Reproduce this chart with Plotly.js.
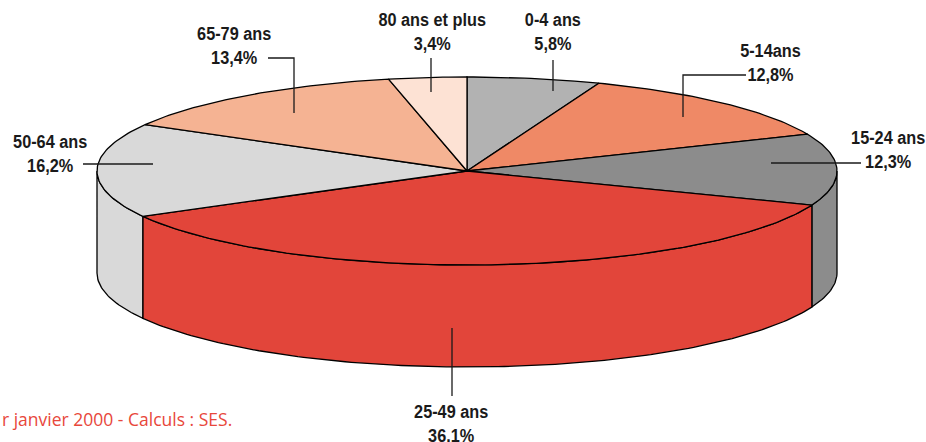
<!DOCTYPE html>
<html><head><meta charset="utf-8">
<script src="https://cdn.plot.ly/plotly-3.0.1.min.js"></script>
<style>html,body{margin:0;padding:0;background:#fff}#chart{width:926px;height:442px}
.narrow-label text.annotation-text{transform-box:fill-box;transform-origin:center;transform:scaleX(0.88)}
</style>
</head><body><div id="chart"></div>
<script>
// ---- data ----
const categories = ['0-4 ans','5-14ans','15-24 ans','25-49 ans','50-64 ans','65-79 ans','80 ans et plus'];
const shares = [5.8, 12.8, 12.3, 36.1, 16.2, 13.4, 3.4];
const shareLabels = ['5,8%','12,8%','12,3%','36.1%','16,2%','13,4%','3,4%'];
const sourceText = 'r janvier 2000 - Calculs : SES.';

// ---- styling / geometry ----
const colors = ['#b2b2b2','#ef8966','#8c8c8c','#e2453a','#d9d9d9','#f5b393','#fde2d4'];
const geo = {cx: 467, cy: 171, rx: 370, ry: 94, depth: 102};
// label text centres and leader polylines (layout only)
const labelPos = [
  {x:553, y:31,  leader:[[553,60],[553,91]]},
  {x:770, y:62,  leader:[[746,75],[683,75],[683,117]]},
  {x:888, y:149, leader:[[861,163],[771,163]]},
  {x:451, y:423, leader:[[452,328],[452,396]]},
  {x:50,  y:153, leader:[[83,164],[153,164]]},
  {x:234, y:45,  leader:[[268,58],[294,58],[294,113]]},
  {x:432, y:31,  leader:[[431,58],[431,92]]}
];

const total = shares.reduce((a,b)=>a+b,0);
function pt(deg, dy){ const t = deg*Math.PI/180; return [geo.cx + geo.rx*Math.sin(t), geo.cy - geo.ry*Math.cos(t) + (dy||0)]; }
function arc(a0, a1, dy){ const n = Math.max(2, Math.ceil(Math.abs(a1-a0))); const out=[]; for(let i=0;i<=n;i++){ out.push(pt(a0+(a1-a0)*i/n, dy)); } return out; }

const traces = [];
let cum = 0;
const spans = shares.map(v=>{ const a0 = cum/total*360; cum += v; return [a0, cum/total*360]; });

// side walls (visible front half: 90..270 deg)
spans.forEach((s,i)=>{
  const a0 = Math.max(s[0], 90), a1 = Math.min(s[1], 270);
  if (a1 <= a0) return;
  const top = arc(a0, a1, 0);
  const bot = arc(a1, a0, geo.depth);
  const pts = top.concat(bot); pts.push(top[0]);
  traces.push({type:'scatter', mode:'lines', x:pts.map(p=>p[0]), y:pts.map(p=>p[1]), fill:'toself', fillcolor:colors[i], line:{color:'#000', width:1.3}, hoverinfo:'skip', showlegend:false});
});
// top face slices
spans.forEach((s,i)=>{
  const pts = [[geo.cx, geo.cy]].concat(arc(s[0], s[1], 0)); pts.push([geo.cx, geo.cy]);
  traces.push({type:'scatter', mode:'lines', x:pts.map(p=>p[0]), y:pts.map(p=>p[1]), fill:'toself', fillcolor:colors[i], line:{color:'#000', width:1.3}, hoverinfo:'skip', showlegend:false, name:categories[i]});
});

const labelFont = {family:'"Liberation Sans",Arial,sans-serif', size:18.5, color:'#1a1a1a', weight:'bold'};
const annotations = categories.map((c,i)=>({
  x: labelPos[i].x, y: labelPos[i].y, xref:'x', yref:'y', showarrow:false,
  text: '<b>'+c+'<br>'+shareLabels[i]+'</b>', font: labelFont, align:'center', xanchor:'center', yanchor:'middle'
}));
annotations.push({x:0, y:419, xref:'x', yref:'y', showarrow:false, xanchor:'left', yanchor:'middle', text:sourceText,
  font:{family:'"Open Sans","Noto Sans",sans-serif', size:17.5, color:'#e8473b'}});

const shapes = labelPos.map(l=>({type:'path', xref:'x', yref:'y', path: 'M' + l.leader.map(p=>p[0]+','+p[1]).join(' L'), line:{color:'#1a1a1a', width:1.3}}));

Plotly.newPlot('chart', traces, {
  width:926, height:442, margin:{l:0,r:0,t:0,b:0},
  paper_bgcolor:'#fff', plot_bgcolor:'#fff',
  xaxis:{range:[0,926], visible:false, fixedrange:true},
  yaxis:{range:[442,0], visible:false, fixedrange:true},
  annotations, shapes, showlegend:false
}, {displayModeBar:false, staticPlot:true}).then(gd=>{
  // condense the bold category labels (not the source line)
  const groups = gd.querySelectorAll('g.annotation');
  groups.forEach((g,i)=>{ if (i < categories.length) g.classList.add('narrow-label'); });
});
</script></body></html>
